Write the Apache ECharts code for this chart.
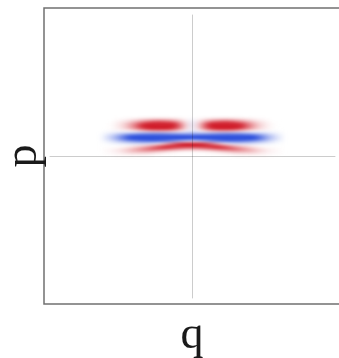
<!DOCTYPE html>
<html>
<head>
<meta charset="utf-8">
<script src="https://cdn.jsdelivr.net/npm/echarts@6/dist/echarts.min.js"></script>
<style>
  html, body { margin: 0; padding: 0; background: #ffffff; }
  #wrap { position: relative; width: 339px; height: 358px; overflow: hidden; }
  #heat, #frame { position: absolute; left: 0; top: 0; width: 339px; height: 358px; }
  /* soften the cell grid of the quasi-probability map: wider along q than along p */
  #heat { filter: url(#smear); }
</style>
</head>
<body>
<svg width="0" height="0" style="position:absolute">
  <filter id="smear" color-interpolation-filters="sRGB" x="0" y="0" width="100%" height="100%">
    <feGaussianBlur stdDeviation="3 1.7"/>
  </filter>
</svg>
<div id="wrap">
  <div id="heat"></div>
  <div id="frame"></div>
</div>
<script>
// phase-space sample points
const qCols = [-3.5, -3.25, -3, -2.75, -2.5, -2.25, -2, -1.75, -1.5, -1.25, -1, -0.75, -0.5, -0.25, 0,
               0.25, 0.5, 0.75, 1, 1.25, 1.5, 1.75, 2, 2.25, 2.5, 2.75, 3, 3.25, 3.5];
const pRows = [1.6, 1.5, 1.4, 1.3, 1.2, 1.1, 1.0, 0.9, 0.8, 0.7, 0.6, 0.5, 0.4, 0.3, 0.2, 0.1, 0.0];
const cellQ = 0.25;
const cellP = 0.1;

// W(q, p), one row per p value (top to bottom), columns follow qCols
const wRows = [
  [0,0,0,0,0,0,0,0,0,0,0,0,0,0,0,0,0,0,0,0,0,0,0,0,0,0,0,0,0],
  [0,0,0.1,0.2,0.4,0.6,0.9,1.1,1.3,1.3,1.2,1.0,0.6,0.2,-0.2,0.2,0.6,1.0,1.2,1.3,1.3,1.1,0.9,0.6,0.4,0.2,0.1,0,0],
  [0,0,0.3,0.6,1.2,2.0,2.9,3.7,4.3,4.4,4.0,3.3,2.0,0.6,-0.5,0.6,2.0,3.3,4.0,4.4,4.3,3.7,2.9,2.0,1.2,0.6,0.3,0,0],
  [0,0.1,0.5,1.1,2.2,3.6,5.2,6.7,7.7,7.9,7.2,5.9,3.6,1.1,-0.7,1.1,3.6,5.9,7.2,7.9,7.7,6.7,5.2,3.6,2.2,1.1,0.5,0.1,0],
  [0,0.1,0.5,1.2,2.4,4.0,5.8,7.4,8.6,8.8,8.0,6.5,4.0,1.2,-0.7,1.2,4.0,6.5,8.0,8.8,8.6,7.4,5.8,4.0,2.4,1.2,0.5,0.1,0],
  [0,0.1,0.4,0.9,1.8,3.0,4.4,5.6,6.5,6.6,6.0,4.9,3.0,0.9,-0.5,0.9,3.0,4.9,6.0,6.6,6.5,5.6,4.4,3.0,1.8,0.9,0.4,0.1,0],
  [-0.1,-0.2,-0.2,-0.2,0,0.3,0.7,1.2,1.5,1.6,1.4,1.0,0.4,-0.4,-0.9,-0.4,0.4,1.0,1.4,1.6,1.5,1.2,0.7,0.3,0,-0.2,-0.2,-0.2,-0.1],
  [-0.4,-0.9,-1.6,-2.3,-3.0,-3.5,-3.9,-4.0,-4.1,-4.0,-3.8,-3.5,-3.3,-3.1,-3.1,-3.1,-3.3,-3.5,-3.8,-4.0,-4.1,-4.0,-3.9,-3.5,-3.0,-2.3,-1.6,-0.9,-0.4],
  [-0.7,-1.7,-2.9,-4.4,-5.7,-6.8,-7.6,-8.1,-8.3,-8.1,-7.6,-7.0,-6.3,-5.9,-5.7,-5.9,-6.3,-7.0,-7.6,-8.1,-8.3,-8.1,-7.6,-6.8,-5.7,-4.4,-2.9,-1.7,-0.7],
  [-0.8,-1.7,-3.0,-4.6,-5.9,-7.0,-7.9,-8.4,-8.6,-8.4,-7.9,-7.1,-6.4,-5.8,-5.5,-5.8,-6.4,-7.1,-7.9,-8.4,-8.6,-8.4,-7.9,-7.0,-5.9,-4.6,-3.0,-1.7,-0.8],
  [-0.4,-1.0,-1.8,-2.6,-3.4,-4.1,-4.6,-4.8,-4.9,-4.6,-4.0,-3.0,-1.9,-1.0,-0.7,-1.0,-1.9,-3.0,-4.0,-4.6,-4.9,-4.8,-4.6,-4.1,-3.4,-2.6,-1.8,-1.0,-0.4],
  [-0.1,-0.3,-0.5,-0.7,-0.9,-1.0,-1.0,-0.9,-0.4,0.5,1.9,3.7,5.2,6.3,6.6,6.3,5.2,3.7,1.9,0.5,-0.4,-0.9,-1.0,-1.0,-0.9,-0.7,-0.5,-0.3,-0.1],
  [0,0,0,0.1,0.3,0.7,1.2,2.0,3.3,4.8,6.2,7.1,7.5,7.4,7.4,7.4,7.5,7.1,6.2,4.8,3.3,2.0,1.2,0.7,0.3,0.1,0,0,0],
  [0.1,0.2,0.4,0.8,1.4,2.2,3.1,4.0,4.7,4.9,4.7,4.0,3.4,2.9,2.8,2.9,3.4,4.0,4.7,4.9,4.7,4.0,3.1,2.2,1.4,0.8,0.4,0.2,0.1],
  [0.1,0.3,0.6,1.1,1.7,2.2,2.5,2.7,2.3,1.8,1.3,0.8,0.6,0.4,0.4,0.4,0.6,0.8,1.3,1.8,2.3,2.7,2.5,2.2,1.7,1.1,0.6,0.3,0.1],
  [0.1,0.2,0.3,0.5,0.8,0.8,0.8,0.7,0.4,0.3,0.1,0.1,0,0,0,0,0,0.1,0.1,0.3,0.4,0.7,0.8,0.8,0.8,0.5,0.3,0.2,0.1],
  [0,0,0.1,0.1,0.1,0.1,0.1,0.1,0,0,0,0,0,0,0,0,0,0,0,0,0,0.1,0.1,0.1,0.1,0.1,0.1,0,0]
];

const axisRange = 6;
const wMin = -5.8, wMax = 5.8;

const cells = [];
pRows.forEach((p, r) => {
  qCols.forEach((q, c) => { cells.push([q, p, wRows[r][c]]); });
});

const plotBox = { left: 44, top: 8, width: 296, height: 296, outerBoundsMode: 'none' };

// ---- quasi-probability map (blurred layer) ----
const heat = echarts.init(document.getElementById('heat'), null, { renderer: 'canvas' });
heat.setOption({
  animation: false,
  backgroundColor: 'transparent',
  grid: Object.assign({}, plotBox),
  xAxis: { type: 'value', min: -axisRange, max: axisRange, show: false },
  yAxis: { type: 'value', min: -axisRange, max: axisRange, show: false },
  visualMap: {
    show: false, type: 'continuous', dimension: 2, min: wMin, max: wMax,
    inRange: { color: ['#2c4fdc', '#ffffff', '#d01b28'] }
  },
  series: [{
    type: 'custom',
    data: cells,
    renderItem: function (params, api) {
      const q = api.value(0), p = api.value(1);
      const a = api.coord([q - cellQ / 2, p + cellP / 2]);
      const b = api.coord([q + cellQ / 2, p - cellP / 2]);
      return {
        type: 'rect',
        shape: { x: a[0], y: a[1], width: b[0] - a[0] + 0.5, height: b[1] - a[1] + 0.5 },
        style: { fill: api.visual('color') }
      };
    }
  }]
});

// ---- frame, crosshair and axis names ----
const frame = echarts.init(document.getElementById('frame'), null, { renderer: 'canvas' });
const nameFont = { fontFamily: 'Liberation Serif', fontSize: 46, color: '#1a1a1a' };
const crossLine = { show: true, onZero: true, lineStyle: { color: 'rgba(0,0,0,0.2)', width: 1 } };
const hidden = { axisLine: { show: false }, axisTick: { show: false }, axisLabel: { show: false }, splitLine: { show: false } };
frame.setOption({
  animation: false,
  backgroundColor: 'transparent',
  grid: [
    Object.assign({}, plotBox),
    { left: 50, top: 15, width: 285, height: 283, outerBoundsMode: 'none' },
    // open-ended box: its right side runs past the canvas edge
    { left: 44, top: 8, width: 330, height: 296, outerBoundsMode: 'none',
      show: true, borderColor: '#707070', borderWidth: 1.5, backgroundColor: 'transparent' }
  ],
  xAxis: [
    Object.assign({ gridIndex: 0, type: 'value', min: -axisRange, max: axisRange, name: 'q',
      nameLocation: 'middle', nameGap: 9, nameTextStyle: nameFont }, hidden),
    Object.assign({ gridIndex: 1, type: 'value', min: -1, max: 1 }, hidden, { axisLine: crossLine }),
    Object.assign({ gridIndex: 2, type: 'value', min: 0, max: 1 }, hidden)
  ],
  yAxis: [
    Object.assign({ gridIndex: 0, type: 'value', min: -axisRange, max: axisRange, name: 'p',
      nameLocation: 'middle', nameGap: -3, nameRotate: 90, nameTextStyle: nameFont }, hidden),
    Object.assign({ gridIndex: 1, type: 'value', min: -1, max: 1 }, hidden, { axisLine: crossLine }),
    Object.assign({ gridIndex: 2, type: 'value', min: 0, max: 1 }, hidden)
  ],
  series: []
});
</script>
</body>
</html>
